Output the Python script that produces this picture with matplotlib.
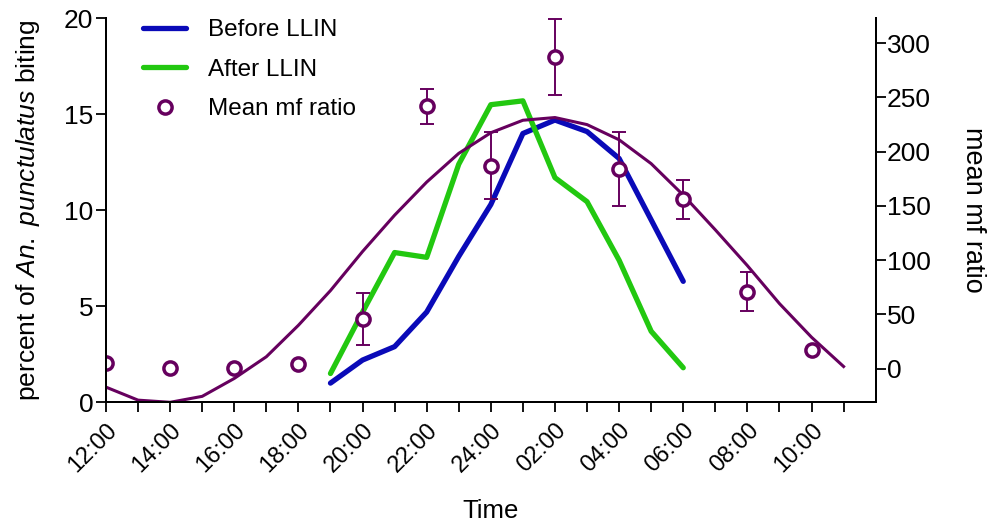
import numpy as np
import matplotlib.pyplot as plt

plt.rcParams['font.family'] = ['Liberation Sans', 'DejaVu Sans']
plt.rcParams['mathtext.fontset'] = 'custom'
plt.rcParams['mathtext.rm'] = 'Liberation Sans'
plt.rcParams['mathtext.it'] = 'Liberation Sans:italic'

# heures depuis 12:00 (0 = 12:00, 12 = 24:00, 23 = 11:00)
tick_labels = ['12:00', '14:00', '16:00', '18:00', '20:00', '22:00', '24:00',
               '02:00', '04:00', '06:00', '08:00', '10:00']

# pourcentage de piqures (axe gauche)
heures_llin = [7, 8, 9, 10, 11, 12, 13, 14, 15, 16, 17, 18]
avant_llin = [1.0, 2.2, 2.9, 4.7, 7.6, 10.3, 14.0, 14.7, 14.1, 12.7, 9.5, 6.3]
apres_llin = [1.5, 4.7, 7.8, 7.55, 12.4, 15.5, 15.7, 11.7, 10.45, 7.4, 3.7, 1.8]

# mf ratio moyen (axe droit)
heures_mf = [0, 2, 4, 6, 8, 10, 12, 14, 16, 18, 20, 22]
mf_moyen = [5.5, 0.6, 0.6, 4.6, 46, 242, 187, 287, 184, 156, 71, 17]
mf_erreur = [0, 0, 0, 0, 24, 16, 31, 35, 34, 18, 18, 0]

# courbe ajustée (axe droit)
heures_fit = list(range(24))
mf_fit = [-17, -29, -31, -25.5, -9, 11, 40, 72, 108, 141.5, 172, 198.5,
          217.5, 229, 231.5, 225, 211, 189, 160, 128, 95, 60, 29, 2]

bleu = '#0a0ab8'
vert = '#22c810'
violet = '#66005e'

fig = plt.figure(figsize=(9.97, 5.27), dpi=100)
ax = fig.add_axes([0.1063, 0.2366, 0.772, 0.7287])
ax2 = ax.twinx()

l1, = ax.plot(heures_llin, avant_llin, color=bleu, lw=3.8, solid_capstyle='round', label='Before LLIN')
l2, = ax.plot(heures_llin, apres_llin, color=vert, lw=3.8, solid_capstyle='round', label='After LLIN')

ax2.plot(heures_fit, mf_fit, color=violet, lw=2.2)
ax2.errorbar(heures_mf, mf_moyen, yerr=mf_erreur, fmt='none', ecolor=violet,
             elinewidth=1.4, capsize=5, capthick=1.4)
l3, = ax2.plot(heures_mf, mf_moyen, 'o', color=violet, mfc='white', mec=violet,
               ms=9.5, mew=2.5, ls='none', label='Mean mf ratio')

ax.set_xlim(0, 24)
ax.set_ylim(0, 20)
ax2.set_ylim(-31, 323)

ax.set_xticks(heures_mf)
ax.set_xticklabels(tick_labels, rotation=45, ha='right', rotation_mode='anchor', fontsize=17)
ax.set_xticks(heures_fit, minor=True)
ax.set_yticks([0, 5, 10, 15, 20])
ax.tick_params(axis='y', labelsize=19, length=7, width=1.3, pad=2)
ax.tick_params(axis='x', which='both', length=7, width=1.3, pad=5)
ax2.set_yticks([0, 50, 100, 150, 200, 250, 300])
ax2.tick_params(axis='y', labelsize=19, length=7, width=1.3, pad=1)

for a in (ax, ax2):
    a.spines['top'].set_visible(False)
    for s in ('left', 'right', 'bottom'):
        a.spines[s].set_linewidth(1.4)

ax.set_xlabel('Time', fontsize=18.5, labelpad=16)
ax.set_ylabel('percent of $\\it{An.}$ $\\it{punctulatus}$ biting', fontsize=19, labelpad=16)
ax2.set_ylabel('mean mf ratio', fontsize=19.5, rotation=270, labelpad=40)

ax.legend(handles=[l1, l2, l3], loc='upper left', bbox_to_anchor=(0.02, 1.055),
          frameon=False, fontsize=17.5, handlelength=1.75, labelspacing=0.72, handletextpad=0.9)

fig.savefig('out.png', dpi=100)
